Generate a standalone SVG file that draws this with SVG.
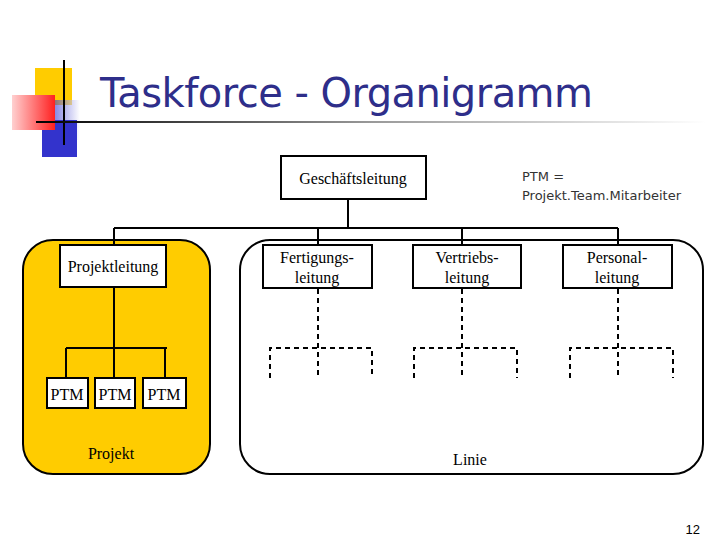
<svg xmlns="http://www.w3.org/2000/svg" width="720" height="540" viewBox="0 0 720 540">
<defs>
<linearGradient id="hl" x1="0" x2="1" y1="0" y2="0"><stop offset="0" stop-color="#000"/><stop offset="0.5" stop-color="#999"/><stop offset="1" stop-color="#fff"/></linearGradient>
<linearGradient id="red" x1="1" x2="0" y1="0" y2="0"><stop offset="0" stop-color="#ff2020"/><stop offset="1" stop-color="#ffd0d0"/></linearGradient>
<linearGradient id="blue" x1="0" x2="1" y1="0" y2="0"><stop offset="0" stop-color="#3b3bd0"/><stop offset="1" stop-color="#ffffff"/></linearGradient>
</defs>
<style>
.b{fill:#fff;stroke:#000;stroke-width:2}
.t{font-family:"Liberation Serif",serif;font-size:16px;text-anchor:middle;fill:#000}
.l{fill:none;stroke:#000;stroke-width:2}
.d{fill:none;stroke:#000;stroke-width:2;stroke-dasharray:5,4}
</style>
<rect width="720" height="540" fill="#fff"/>
<g id="decor">
<rect x="35" y="68" width="37" height="37" fill="#ffcc00"/>
<rect x="55" y="100" width="25" height="40" fill="url(#blue)" opacity="0.6"/>
<rect x="42" y="120" width="35" height="37" fill="#3333cc"/>
<rect x="12" y="95" width="43" height="35" fill="url(#red)"/>
<line x1="64" y1="60" x2="64" y2="145" stroke="#000" stroke-width="2"/>
<rect x="36" y="121" width="670" height="2" fill="url(#hl)"/>
</g>
<text x="100" y="107" font-family="DejaVu Sans,sans-serif" font-size="40" fill="#2e2e8a" textLength="493">Taskforce - Organigramm</text>
<g id="projekt"><rect x="23" y="240" width="187" height="234" rx="30" fill="#ffcc00" stroke="#000" stroke-width="2"/><text class="t" x="111" y="459">Projekt</text></g>
<g id="linie"><rect x="240" y="240" width="463" height="234" rx="30" fill="#fff" stroke="#000" stroke-width="2"/><text class="t" x="470" y="465">Linie</text></g>
<g id="connectors">
<path class="l" d="M348 199V228M114 228H618M114 228V245M318 228V245M462 228V245M618 228V245"/>
<path class="l" d="M114 287V348M66 348H167M66 348V378M114 348V378M165 348V378"/>
<path class="d" d="M318 289V378M270 378V348H372V378M462 289V378M414 378V348H517V378M618 289V378M570 378V348H673V378"/>
</g>
<g id="gl"><rect class="b" x="281" y="156" width="145" height="43"/><text class="t" x="353" y="184">Geschäftsleitung</text></g>
<g id="pl"><rect class="b" x="60" y="245" width="106" height="42"/><text class="t" x="113" y="272">Projektleitung</text></g>
<g id="ptm1"><rect class="b" x="47" y="378" width="41" height="30"/><text class="t" x="67" y="400">PTM</text></g>
<g id="ptm2"><rect class="b" x="95" y="378" width="40" height="30"/><text class="t" x="115" y="400">PTM</text></g>
<g id="ptm3"><rect class="b" x="143" y="378" width="43" height="30"/><text class="t" x="164" y="400">PTM</text></g>
<g id="fl"><rect class="b" x="263" y="245" width="109" height="43"/><text class="t" x="317" y="263">Fertigungs-</text><text class="t" x="317" y="283">leitung</text></g>
<g id="vl"><rect class="b" x="413" y="245" width="108" height="43"/><text class="t" x="467" y="263">Vertriebs-</text><text class="t" x="467" y="283">leitung</text></g>
<g id="psl"><rect class="b" x="563" y="245" width="109" height="43"/><text class="t" x="617" y="263">Personal-</text><text class="t" x="617" y="283">leitung</text></g>
<g id="legend" font-family="DejaVu Sans,sans-serif" font-size="13" fill="#333"><text x="522" y="181">PTM =</text><text x="522" y="200">Projekt.Team.Mitarbeiter</text></g>
<text x="700" y="534" font-family="Liberation Sans,sans-serif" font-size="13" text-anchor="end">12</text>
</svg>
